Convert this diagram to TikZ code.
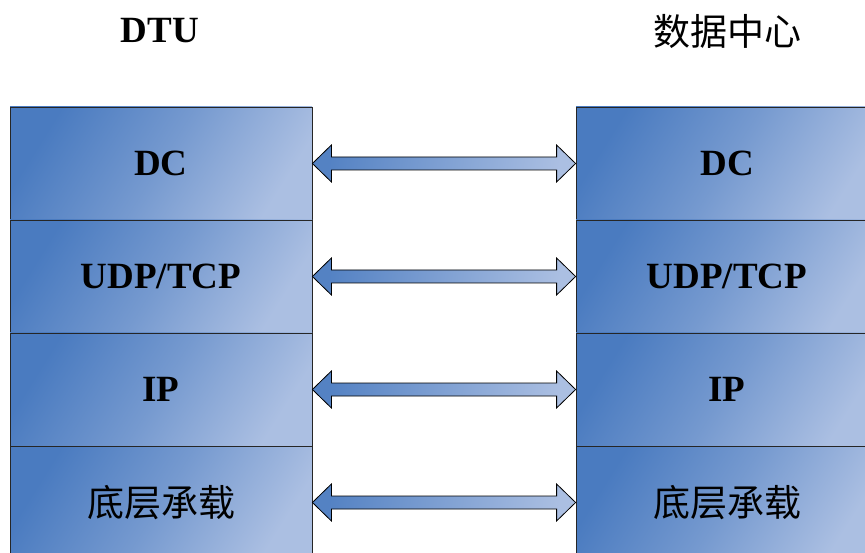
\documentclass[tikz,border=0pt]{standalone}
\usepackage{fontspec}
\setmainfont{Liberation Serif}
\newfontfamily\cjk{Noto Sans CJK SC}
\usetikzlibrary{calc}
\definecolor{bdark}{HTML}{4A7BC0}
\definecolor{blight}{HTML}{ABBFE2}
\tikzset{
  layerbox/.style={draw=black!85, line width=0.8pt, minimum width=302pt, minimum height=113pt,
    inner sep=0pt, top color=bdark, bottom color=blight, middle color=bdark!55!blight, shading angle=58,
    font=\fontsize{37}{40}\selectfont\bfseries},
  cjklabel/.style={font=\fontsize{37}{40}\selectfont\cjk},
  blockarrow/.style={draw=black, line width=0.8pt, line join=miter, top color=bdark!90!blight, bottom color=blight, shading angle=80},
  title/.style={inner sep=0pt}
}
\begin{document}
\begin{tikzpicture}[x=1pt,y=-1pt]
\useasboundingbox (0,0) rectangle (865,553);
\fill[white] (0,0) rectangle (865,553);
% titles
\node[title, font=\fontsize{37}{40}\selectfont\bfseries] (tl) at (160,31) {DTU};
\node[title, font=\fontsize{37}{40}\selectfont\cjk] (tr) at (727,31) {数据中心};
% left stack
\node[layerbox] (l1) at (161,163.5) {DC};
\node[layerbox] (l2) at (161,276.5) {UDP/TCP};
\node[layerbox] (l3) at (161,389.5) {IP};
\node[layerbox] (l4) at (161,502.5) {};
\node[cjklabel] (l4t) at (l4.center) {底层承载};
% right stack
\node[layerbox] (r1) at (727,163.5) {DC};
\node[layerbox] (r2) at (727,276.5) {UDP/TCP};
\node[layerbox] (r3) at (727,389.5) {IP};
\node[layerbox] (r4) at (727,502.5) {};
\node[cjklabel] (r4t) at (r4.center) {底层承载};
% arrows
\foreach \i in {1,2,3,4}{
  \draw[blockarrow] (l\i.east) -- ++(19,-18.5) -- ++(0,12) -- ($(r\i.west)+(-19,-6.5)$) -- ++(0,-12)
    -- (r\i.west) -- ++(-19,18.5) -- ++(0,-12) -- ($(l\i.east)+(19,6.5)$) -- ++(0,12) -- cycle;
}
\end{tikzpicture}
\end{document}
